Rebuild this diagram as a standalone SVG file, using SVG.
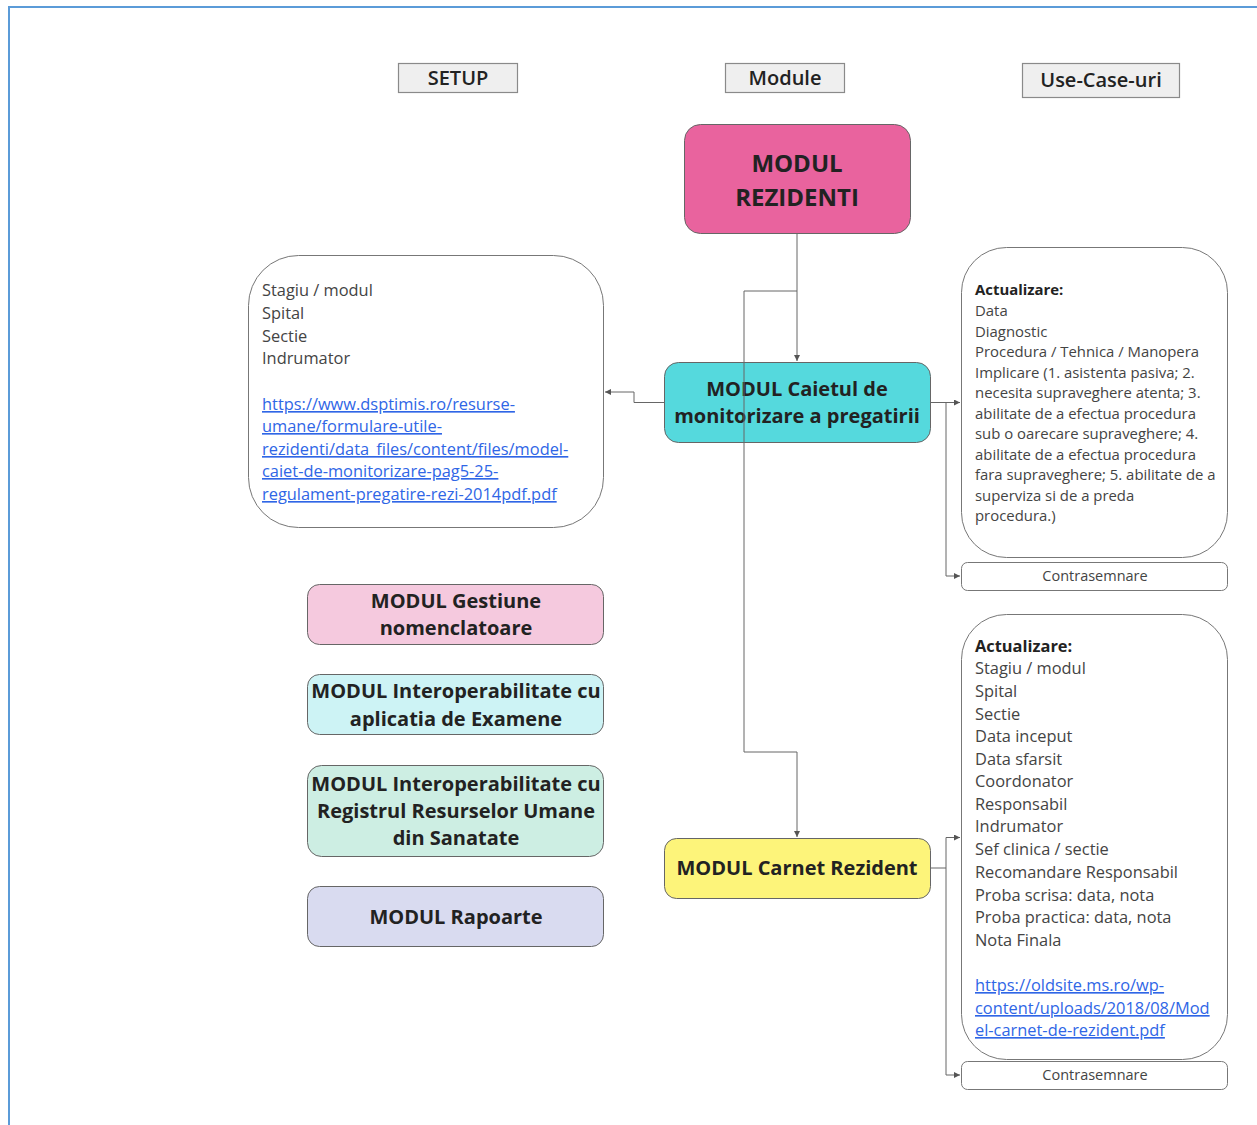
<svg xmlns="http://www.w3.org/2000/svg" width="1257" height="1125" viewBox="0 0 1257 1125">
<defs>
<marker id="arr" markerWidth="8" markerHeight="8" refX="6" refY="3" orient="auto" markerUnits="userSpaceOnUse">
<path d="M0,0 L6,3 L0,6 Z" fill="#555"/>
</marker>
<style>
text{font-family:"Open Sans","Noto Sans","DejaVu Sans",sans-serif;}
.hdr{fill:#efefef;stroke:#8a8a8a;stroke-width:1.2;}
.hdrt{font-size:20px;font-weight:600;fill:#222;text-anchor:middle;}
.mod{stroke:#666;stroke-width:1;}
.modt{font-size:20px;font-weight:700;fill:#222;text-anchor:middle;}
.box{fill:#fff;stroke:#777;stroke-width:1;}
.bt{font-size:16.4px;fill:#444;}
.bt2{font-size:14.9px;fill:#444;}
.lnk{fill:#2f66e6;text-decoration:underline;}
.ct{font-size:14.5px;fill:#444;text-anchor:middle;}
.conn{fill:none;stroke:#666;stroke-width:1;}
</style>
</defs>
<rect width="1257" height="1125" fill="#fff"/>
<path d="M9,1125 L9,7 L1257,7" fill="none" stroke="#5b9bd8" stroke-width="2"/>

<g id="hdr-setup"><rect class="hdr" x="398.5" y="63.5" width="119" height="29"/><text class="hdrt" x="458" y="85">SETUP</text></g>
<g id="hdr-module"><rect class="hdr" x="725.5" y="63.5" width="119" height="29"/><text class="hdrt" x="785" y="85">Module</text></g>
<g id="hdr-usecase"><rect class="hdr" x="1022.5" y="63.5" width="157" height="34"/><text class="hdrt" x="1101" y="87">Use-Case-uri</text></g>

<g id="n-rezidenti"><rect class="mod" x="684.5" y="124.5" width="226" height="109" rx="16" fill="#e9639e"/>
<text class="modt" style="font-size:24px" x="797" y="172">MODUL</text><text class="modt" style="font-size:24px" x="797" y="206">REZIDENTI</text></g>

<g id="n-setupinfo"><rect class="box" x="248.5" y="255.5" width="355" height="272" rx="50"/>
<text class="bt" x="262"><tspan x="262" y="296">Stagiu / modul</tspan><tspan x="262" y="319">Spital</tspan><tspan x="262" y="342">Sectie</tspan><tspan x="262" y="364">Indrumator</tspan></text>
<text class="bt lnk" x="262"><tspan x="262" y="410">https://www.dsptimis.ro/resurse-</tspan><tspan x="262" y="432">umane/formulare-utile-</tspan><tspan x="262" y="455">rezidenti/data_files/content/files/model-</tspan><tspan x="262" y="477">caiet-de-monitorizare-pag5-25-</tspan><tspan x="262" y="500">regulament-pregatire-rezi-2014pdf.pdf</tspan></text></g>

<g id="n-caiet"><rect class="mod" x="664.5" y="362.5" width="266" height="80" rx="14" fill="#55d9dd"/>
<text class="modt" x="797" y="396">MODUL Caietul de</text><text class="modt" x="797" y="423">monitorizare a pregatirii</text></g>

<g id="n-caiet-uc"><rect class="box" x="961.5" y="247.5" width="266" height="310" rx="45"/>
<text class="bt2" x="975"><tspan x="975" y="295" font-weight="700" fill="#222">Actualizare:</tspan><tspan x="975" y="316">Data</tspan><tspan x="975" y="336.5">Diagnostic</tspan><tspan x="975" y="357">Procedura / Tehnica / Manopera</tspan><tspan x="975" y="377.5">Implicare (1. asistenta pasiva; 2.</tspan><tspan x="975" y="398">necesita supraveghere atenta; 3.</tspan><tspan x="975" y="418.5">abilitate de a efectua procedura</tspan><tspan x="975" y="439">sub o oarecare supraveghere; 4.</tspan><tspan x="975" y="459.5">abilitate de a efectua procedura</tspan><tspan x="975" y="480">fara supraveghere; 5. abilitate de a</tspan><tspan x="975" y="500.5">superviza si de a preda</tspan><tspan x="975" y="521">procedura.)</tspan></text></g>

<g id="n-contra1"><rect class="box" x="961.5" y="562.5" width="266" height="28" rx="6"/><text class="ct" x="1095" y="581">Contrasemnare</text></g>

<g id="n-gestiune"><rect class="mod" x="307.5" y="584.5" width="296" height="60" rx="12" fill="#f5c9de"/>
<text class="modt" x="456" y="608">MODUL Gestiune</text><text class="modt" x="456" y="635">nomenclatoare</text></g>

<g id="n-examene"><rect class="mod" x="307.5" y="674.5" width="296" height="60" rx="12" fill="#cdf3f5"/>
<text class="modt" x="456" y="698">MODUL Interoperabilitate cu</text><text class="modt" x="456" y="726">aplicatia de Examene</text></g>

<g id="n-registru"><rect class="mod" x="307.5" y="765.5" width="296" height="91" rx="14" fill="#cdeee3"/>
<text class="modt" x="456" y="791">MODUL Interoperabilitate cu</text><text class="modt" x="456" y="818">Registrul Resurselor Umane</text><text class="modt" x="456" y="845">din Sanatate</text></g>

<g id="n-rapoarte"><rect class="mod" x="307.5" y="886.5" width="296" height="60" rx="12" fill="#d9dbf0"/>
<text class="modt" x="456" y="924">MODUL Rapoarte</text></g>

<g id="n-carnet"><rect class="mod" x="664.5" y="838.5" width="266" height="60" rx="12" fill="#fdf47a"/>
<text class="modt" x="797" y="875">MODUL Carnet Rezident</text></g>

<g id="n-carnet-uc"><rect class="box" x="961.5" y="614.5" width="266" height="445" rx="45"/>
<text class="bt" x="975"><tspan x="975" y="652" font-weight="700" fill="#222">Actualizare:</tspan><tspan x="975" y="674">Stagiu / modul</tspan><tspan x="975" y="697">Spital</tspan><tspan x="975" y="720">Sectie</tspan><tspan x="975" y="742">Data inceput</tspan><tspan x="975" y="765">Data sfarsit</tspan><tspan x="975" y="787">Coordonator</tspan><tspan x="975" y="810">Responsabil</tspan><tspan x="975" y="832">Indrumator</tspan><tspan x="975" y="855">Sef clinica / sectie</tspan><tspan x="975" y="878">Recomandare Responsabil</tspan><tspan x="975" y="901">Proba scrisa: data, nota</tspan><tspan x="975" y="923">Proba practica: data, nota</tspan><tspan x="975" y="946">Nota Finala</tspan></text>
<text class="bt lnk" x="975"><tspan x="975" y="991">https://oldsite.ms.ro/wp-</tspan><tspan x="975" y="1014">content/uploads/2018/08/Mod</tspan><tspan x="975" y="1036">el-carnet-de-rezident.pdf</tspan></text></g>

<g id="n-contra2"><rect class="box" x="961.5" y="1061.5" width="266" height="28" rx="6"/><text class="ct" x="1095" y="1080">Contrasemnare</text></g>

<g id="connectors">
<path class="conn" d="M797,234 V361" marker-end="url(#arr)"/>
<path class="conn" d="M797,291 H744 V752 H797 V837" marker-end="url(#arr)"/>
<path class="conn" d="M664,402.5 H634 V392 H605" marker-end="url(#arr)"/>
<path class="conn" d="M931,402.5 H960" marker-end="url(#arr)"/>
<path class="conn" d="M946,402.5 V576 H960" marker-end="url(#arr)"/>
<path class="conn" d="M931,868 H946 V837.5 H960" marker-end="url(#arr)"/>
<path class="conn" d="M946,868 V1075 H960" marker-end="url(#arr)"/>
</g>
</svg>
